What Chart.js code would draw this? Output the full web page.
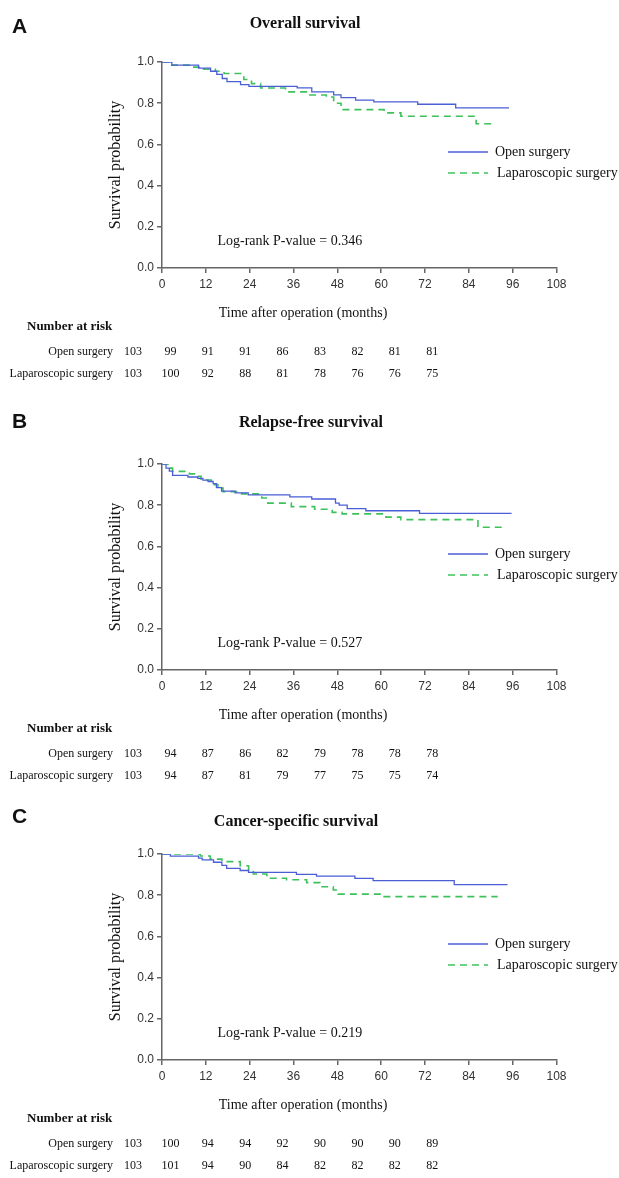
<!DOCTYPE html>
<html>
<head>
<meta charset="utf-8">
<script src="https://cdn.jsdelivr.net/npm/chart.js@4.4.1/dist/chart.umd.min.js"></script>
<style>
body { margin: 0; background: #fff; }
#page { position: relative; width: 619px; height: 1178px; overflow: hidden; background: #fff; }
#page canvas { position: absolute; left: 0; }
</style>
</head>
<body>
<div id="page">
	<canvas id="chartA" width="619" height="385" style="top:0px"></canvas>
	<canvas id="chartB" width="619" height="385" style="top:402px"></canvas>
	<canvas id="chartC" width="619" height="385" style="top:792px"></canvas>
</div>
<script>
// Kaplan-Meier steps: time (months) and survival after each step
const osOpenT = [0, 2.7, 10, 13.3, 15, 16.5, 17.8, 21.5, 23.8, 37, 41, 47, 49, 53, 58, 70, 80.4, 95];
const osOpenS = [1, 0.985, 0.97, 0.955, 0.94, 0.92, 0.905, 0.89, 0.882, 0.874, 0.855, 0.84, 0.827, 0.815, 0.806, 0.795, 0.777, 0.777];
const osLapT = [0, 2.7, 8.7, 11.4, 14.6, 17, 22.4, 24.5, 27, 33.8, 39.8, 45, 47, 49, 60.8, 65.4, 86, 91];
const osLapS = [1, 0.985, 0.975, 0.965, 0.955, 0.944, 0.915, 0.895, 0.874, 0.855, 0.84, 0.83, 0.8, 0.769, 0.753, 0.737, 0.7, 0.7];

const rfsOpenT = [0, 1.1, 2, 2.9, 7.1, 9.8, 11.2, 12.6, 14, 14.9, 16.3, 20, 23.6, 35, 41, 47.5, 48.5, 50.7, 55.8, 70.5, 95.7];
const rfsOpenS = [1, 0.98, 0.965, 0.945, 0.937, 0.93, 0.922, 0.915, 0.905, 0.885, 0.868, 0.86, 0.85, 0.84, 0.83, 0.81, 0.8, 0.783, 0.773, 0.76, 0.76];
const rfsLapT = [0, 1.6, 2.9, 7.5, 8.9, 10.7, 13.5, 15.3, 16.7, 21.8, 27.3, 29, 35.4, 41.8, 46.6, 49.3, 61.3, 65.4, 86.5, 93];
const rfsLapS = [1, 0.98, 0.964, 0.952, 0.94, 0.922, 0.9, 0.883, 0.866, 0.855, 0.835, 0.81, 0.793, 0.78, 0.765, 0.758, 0.742, 0.73, 0.693, 0.693];

const cssOpenT = [0, 2.3, 10, 11, 14.1, 16.4, 17.7, 21.4, 23.7, 36.8, 42.3, 52.8, 57.8, 80, 94.6];
const cssOpenS = [1, 0.99, 0.98, 0.971, 0.96, 0.945, 0.93, 0.92, 0.911, 0.901, 0.893, 0.882, 0.871, 0.851, 0.851];
const cssLapT = [0, 10.5, 13.2, 16.4, 21.4, 23.7, 25, 28.7, 34.1, 39.6, 43.2, 46.9, 48.2, 60, 91.9];
const cssLapS = [1, 0.99, 0.975, 0.963, 0.943, 0.925, 0.903, 0.882, 0.875, 0.861, 0.841, 0.825, 0.805, 0.793, 0.793];

// number at risk at 0, 12, ... 96 months
const osOpenRisk = [103, 99, 91, 91, 86, 83, 82, 81, 81];
const osLapRisk = [103, 100, 92, 88, 81, 78, 76, 76, 75];
const rfsOpenRisk = [103, 94, 87, 86, 82, 79, 78, 78, 78];
const rfsLapRisk = [103, 94, 87, 81, 79, 77, 75, 75, 74];
const cssOpenRisk = [103, 100, 94, 94, 92, 90, 90, 90, 89];
const cssLapRisk = [103, 101, 94, 90, 84, 82, 82, 82, 82];

const groupNames = ['Open surgery', 'Laparoscopic surgery'];

const serif = "'Liberation Serif', 'Times New Roman', serif";
const sans = "'Liberation Sans', Arial, sans-serif";
const blue = '#4a5ed6';
const green = '#3ec15a';
const axisGrey = '#666';

function pts(t, s) {
	return t.map((x, i) => ({ x: x, y: s[i] }));
}

// titles, legend, p-value and the risk table
const extras = {
	id: 'extras',
	afterDraw(chart, args, opts) {
		const ctx = chart.ctx;
		const area = chart.chartArea;
		const xs = chart.scales.x, ys = chart.scales.y;
		ctx.save();
		ctx.fillStyle = '#111';

		ctx.font = 'bold 21px ' + sans;
		ctx.textAlign = 'left';
		ctx.textBaseline = 'alphabetic';
		ctx.fillText(opts.letter, 12, opts.letterY);

		ctx.font = 'bold 16px ' + serif;
		ctx.textAlign = 'center';
		ctx.fillText(opts.title, opts.titleX, opts.titleY);

		ctx.textBaseline = 'middle';
		ctx.save();
		ctx.translate(116, (area.top + area.bottom) / 2);
		ctx.rotate(-Math.PI / 2);
		ctx.font = '16px ' + serif;
		ctx.fillText('Survival probability', 0, 0);
		ctx.restore();

		ctx.font = '14px ' + serif;
		ctx.fillText('Time after operation (months)', 303, 313);

		ctx.fillText(opts.pText, xs.getPixelForValue(35), ys.getPixelForValue(0.128));

		// legend
		ctx.textAlign = 'left';
		ctx.strokeStyle = blue;
		ctx.lineWidth = 1.3;
		ctx.beginPath(); ctx.moveTo(448, 152); ctx.lineTo(488, 152); ctx.stroke();
		ctx.fillText(groupNames[0], 495, 152);
		ctx.strokeStyle = green;
		ctx.lineWidth = 1.6;
		ctx.setLineDash([7, 5]);
		ctx.beginPath(); ctx.moveTo(448, 173); ctx.lineTo(488, 173); ctx.stroke();
		ctx.setLineDash([]);
		ctx.fillText(groupNames[1], 497, 173);

		// number at risk
		ctx.font = 'bold 13px ' + serif;
		ctx.fillText('Number at risk', 27, 327);
		ctx.font = '12px ' + serif;
		ctx.textAlign = 'right';
		ctx.fillText(groupNames[0], 113, 352);
		ctx.fillText(groupNames[1], 113, 374);
		ctx.textAlign = 'center';
		opts.openRisk.forEach((v, i) => ctx.fillText(String(v), 133 + i * 37.4, 352));
		opts.lapRisk.forEach((v, i) => ctx.fillText(String(v), 133 + i * 37.4, 374));
		ctx.restore();
	}
};

function makePanel(id, open, lap, info) {
	new Chart(document.getElementById(id), {
		type: 'line',
		data: {
			datasets: [{
				label: groupNames[0],
				data: open,
				borderColor: blue,
				borderWidth: 1.3,
				stepped: true,
				pointRadius: 0,
				fill: false
			}, {
				label: groupNames[1],
				data: lap,
				borderColor: green,
				borderWidth: 1.6,
				borderDash: [7, 5],
				stepped: true,
				pointRadius: 0,
				fill: false
			}]
		},
		plugins: [extras],
		options: {
			responsive: false,
			animation: false,
			layout: { padding: { top: 62, right: 62.5, bottom: 0, left: 0 } },
			plugins: {
				legend: { display: false },
				tooltip: { enabled: false },
				extras: info
			},
			scales: {
				x: {
					type: 'linear',
					min: 0,
					max: 108,
					afterFit(scale) { scale.height = 117; },
					border: { display: true, color: axisGrey, width: 1.5 },
					grid: { drawOnChartArea: false, drawTicks: true, tickLength: 5, color: axisGrey, lineWidth: 1.5 },
					ticks: { stepSize: 12, autoSkip: false, maxRotation: 0, padding: 4, color: '#333', font: { family: sans, size: 12 } }
				},
				y: {
					min: 0,
					max: 1,
					afterFit(scale) { scale.width = 162; },
					border: { display: true, color: axisGrey, width: 1.5 },
					grid: { drawOnChartArea: false, drawTicks: true, tickLength: 5, color: axisGrey, lineWidth: 1.5 },
					ticks: { stepSize: 0.2, padding: 3, color: '#333', font: { family: sans, size: 12 }, callback: v => v.toFixed(1) }
				}
			}
		}
	});
}

makePanel('chartA', pts(osOpenT, osOpenS), pts(osLapT, osLapS), {
	letter: 'A', letterY: 33, title: 'Overall survival', titleX: 305, titleY: 28,
	pText: 'Log-rank P-value = 0.346', openRisk: osOpenRisk, lapRisk: osLapRisk
});

makePanel('chartB', pts(rfsOpenT, rfsOpenS), pts(rfsLapT, rfsLapS), {
	letter: 'B', letterY: 26, title: 'Relapse-free survival', titleX: 311, titleY: 25,
	pText: 'Log-rank P-value = 0.527', openRisk: rfsOpenRisk, lapRisk: rfsLapRisk
});

makePanel('chartC', pts(cssOpenT, cssOpenS), pts(cssLapT, cssLapS), {
	letter: 'C', letterY: 31, title: 'Cancer-specific survival', titleX: 296, titleY: 34,
	pText: 'Log-rank P-value = 0.219', openRisk: cssOpenRisk, lapRisk: cssLapRisk
});
</script>
</body>
</html>
